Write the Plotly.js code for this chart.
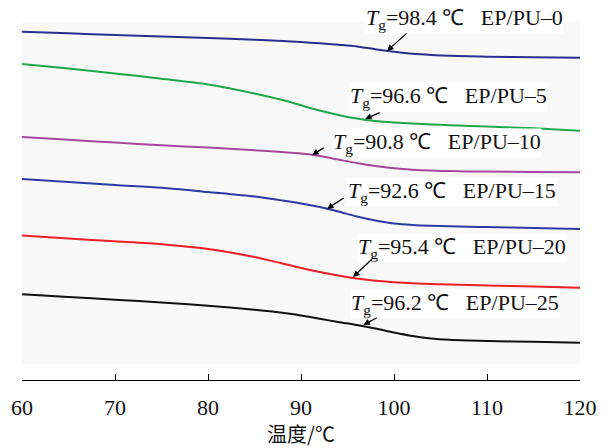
<!DOCTYPE html>
<html>
<head>
<meta charset="utf-8">
<script src="https://cdn.plot.ly/plotly-3.0.1.min.js"></script>
<style>html,body{margin:0;padding:0;background:#fff;}#chart{width:610px;height:448px;}</style>
</head>
<body>
<div id="chart"></div>
<script>
// Temperature (°C)
const temperature = [60, 65, 70, 75, 80, 85, 88, 90, 92, 94, 96, 98, 100, 102, 104, 106, 108, 110, 115, 120];
// Heat flow (arbitrary units, curves offset vertically)
const pu0  = [3.683, 3.667, 3.650, 3.635, 3.620, 3.602, 3.590, 3.580, 3.567, 3.552, 3.535, 3.508, 3.482, 3.462, 3.450, 3.442, 3.437, 3.433, 3.428, 3.422];
const pu5  = [3.360, 3.314, 3.266, 3.213, 3.156, 3.066, 3.000, 2.947, 2.895, 2.850, 2.815, 2.790, 2.775, 2.764, 2.756, 2.748, 2.741, 2.734, 2.717, 2.693];
const pu10 = [2.630, 2.602, 2.575, 2.547, 2.525, 2.498, 2.480, 2.465, 2.440, 2.405, 2.370, 2.340, 2.317, 2.303, 2.294, 2.289, 2.286, 2.284, 2.280, 2.277];
const pu15 = [2.210, 2.180, 2.150, 2.123, 2.080, 2.035, 1.995, 1.965, 1.930, 1.885, 1.835, 1.795, 1.765, 1.750, 1.742, 1.737, 1.733, 1.729, 1.720, 1.710];
const pu20 = [1.645, 1.615, 1.587, 1.558, 1.510, 1.430, 1.365, 1.320, 1.280, 1.245, 1.215, 1.192, 1.178, 1.167, 1.160, 1.154, 1.149, 1.145, 1.134, 1.123];
const pu25 = [1.057, 1.030, 1.003, 0.975, 0.943, 0.902, 0.873, 0.845, 0.813, 0.780, 0.750, 0.715, 0.675, 0.640, 0.615, 0.602, 0.595, 0.590, 0.582, 0.573];

const seriesNames = ["EP/PU–0", "EP/PU–5", "EP/PU–10", "EP/PU–15", "EP/PU–20", "EP/PU–25"];
const seriesValues = [pu0, pu5, pu10, pu15, pu20, pu25];
const seriesColors = ["#2b2e8f", "#1fa84a", "#a5479c", "#2d3aa5", "#ee1f26", "#111111"];
const tgValues = ["98.4", "96.6", "90.8", "92.6", "95.4", "96.2"];
// label anchor (left edge / middle) and arrow tip, in data units
const labelX = [96.9, 95.2, 93.3, 94.9, 96.0, 95.3];
const labelY = [3.81, 3.03, 2.57, 2.08, 1.52, 0.96];
const tipX = [99.25, 96.9, 91.2, 92.8, 95.6, 96.7];
const tipY = [3.49, 2.81, 2.45, 1.91, 1.23, 0.75];
const arrowDX = [21, 16, 13, 18, 20, 15];
const arrowDY = [-19, -7, -8, -12, -19, -8];

const traces = seriesValues.map((v, i) => ({
  x: temperature, y: v, type: "scatter", mode: "lines", name: seriesNames[i],
  line: {color: seriesColors[i], width: 2, shape: "spline", smoothing: 0.8},
  showlegend: false, hoverinfo: "skip"
}));

const serif = "Liberation Serif, Times New Roman, serif";
const annotations = [];
seriesNames.forEach((n, i) => {
  annotations.push({
    x: labelX[i], y: labelY[i], xref: "x", yref: "y", xanchor: "left", yanchor: "middle",
    text: "<i>T</i><sub>g</sub>=" + tgValues[i] + "\u00a0℃\u00a0\u00a0\u00a0" + n,
    showarrow: false, bgcolor: "#ffffff", borderpad: 0,
    font: {family: serif, size: 22, color: "#111"}
  });
  annotations.push({
    x: tipX[i], y: tipY[i], xref: "x", yref: "y", text: "", showarrow: true,
    ax: arrowDX[i], ay: arrowDY[i], arrowhead: 2, arrowsize: 1, arrowwidth: 1.3,
    arrowcolor: "#000", standoff: 0
  });
});

const layout = {
  width: 610, height: 448,
  margin: {l: 22, r: 30, t: 10, b: 68},
  paper_bgcolor: "#ffffff", plot_bgcolor: "rgba(0,0,0,0)",
  shapes: [{type: "rect", xref: "paper", yref: "paper", x0: 0, x1: 1, y0: 0.043, y1: 0.968,
            fillcolor: "#f9f9f9", line: {width: 0}, layer: "below"}],
  xaxis: {
    range: [60, 120], tickvals: [60, 70, 80, 90, 100, 110, 120],
    showline: true, linecolor: "#000", linewidth: 1, mirror: false,
    ticks: "inside", ticklen: 6, tickcolor: "#000", tickwidth: 1,
    showgrid: false, zeroline: false, ticklabelstandoff: 8,
    tickfont: {family: serif, size: 22, color: "#111"},
    title: {text: "温度/℃", font: {family: "Noto Sans CJK SC, sans-serif", size: 20, color: "#111"}, standoff: 6}
  },
  yaxis: {range: [0.2, 3.90], visible: false, showgrid: false, zeroline: false},
  annotations: annotations
};

Plotly.newPlot("chart", traces, layout, {displayModeBar: false, staticPlot: true});
</script>
</body>
</html>
